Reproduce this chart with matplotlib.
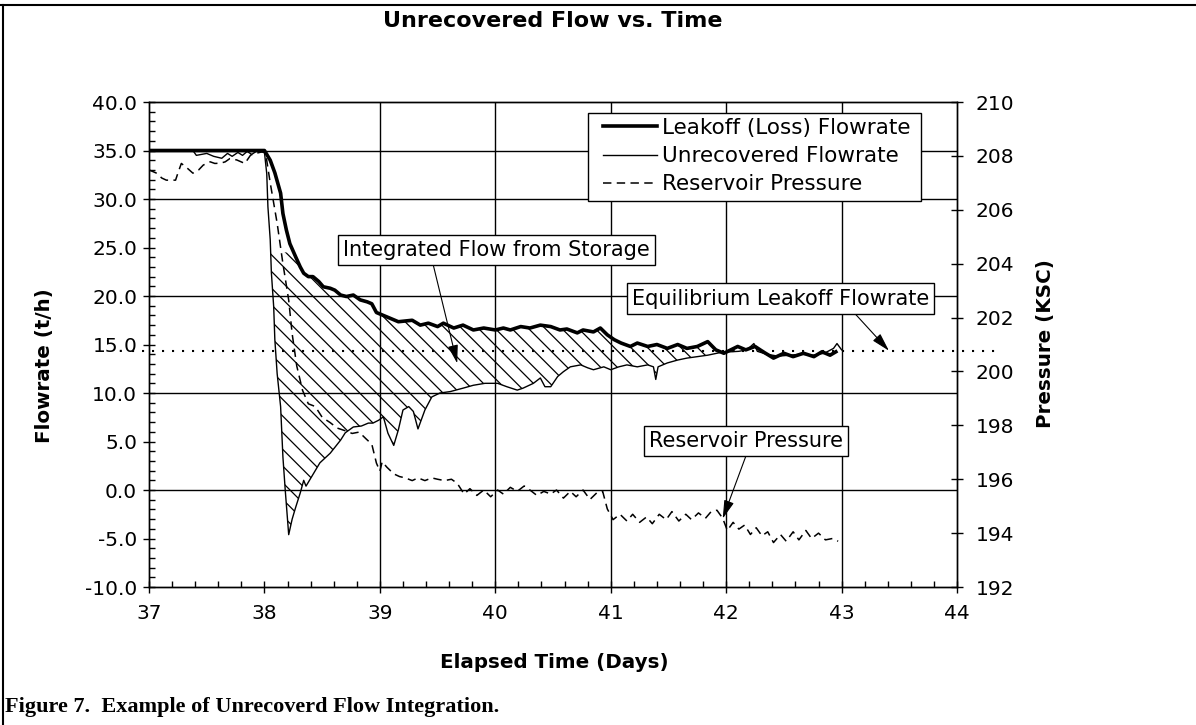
import numpy as np
import matplotlib.pyplot as plt
from matplotlib.lines import Line2D
from matplotlib.patches import Rectangle
from matplotlib.ticker import MultipleLocator

# Leakoff (Loss) Flowrate, t/h
leak_t = [37.0, 37.5, 38.0, 38.05, 38.09, 38.14, 38.16, 38.19, 38.22, 38.27, 38.31, 38.34,
          38.38, 38.42, 38.47, 38.51, 38.57, 38.61, 38.66, 38.71, 38.77, 38.83, 38.89, 38.93,
          38.97, 39.03, 39.09, 39.16, 39.2, 39.28, 39.35, 39.42, 39.5, 39.55, 39.64, 39.72,
          39.81, 39.9, 40.0, 40.07, 40.13, 40.22, 40.3, 40.39, 40.48, 40.56, 40.62, 40.71,
          40.76, 40.85, 40.91, 40.97, 41.03, 41.09, 41.17, 41.23, 41.32, 41.4, 41.49, 41.58,
          41.66, 41.75, 41.84, 41.91, 41.98, 42.04, 42.1, 42.17, 42.25, 42.32, 42.41, 42.5,
          42.58, 42.67, 42.76, 42.83, 42.9, 42.95]
leak_f = [35.0, 35.0, 35.0, 34.0, 32.7, 30.6, 28.5, 26.8, 25.4, 24.05, 23.0, 22.35,
          22.0, 22.0, 21.5, 20.95, 20.8, 20.6, 20.1, 19.95, 20.1, 19.6, 19.4, 19.2,
          18.3, 18.0, 17.7, 17.35, 17.4, 17.5, 17.0, 17.2, 16.85, 17.2, 16.7, 17.0,
          16.5, 16.7, 16.5, 16.7, 16.5, 16.85, 16.7, 17.0, 16.85, 16.5, 16.6, 16.2,
          16.5, 16.3, 16.7, 16.0, 15.5, 15.15, 14.8, 15.15, 14.8, 15.0, 14.6, 15.0,
          14.6, 14.8, 15.3, 14.45, 14.1, 14.45, 14.8, 14.45, 14.8, 14.25, 13.6, 14.1,
          13.75, 14.1, 13.75, 14.25, 13.9, 14.25]

# Unrecovered Flowrate, t/h
unrec_t = [37.0, 37.38, 37.41, 37.5, 37.56, 37.63, 37.68, 37.72, 37.77, 37.81, 37.85, 37.89,
           37.94, 38.0, 38.02, 38.03, 38.05, 38.06, 38.08, 38.09, 38.11, 38.14, 38.16, 38.18,
           38.21, 38.24, 38.27, 38.31, 38.34, 38.36, 38.41, 38.48, 38.57, 38.66, 38.70, 38.77,
           38.84, 38.9, 38.94, 38.99, 39.03, 39.07, 39.12, 39.16, 39.2, 39.25, 39.29, 39.33,
           39.39, 39.45, 39.52, 39.61, 39.72, 39.81, 39.91, 40.02, 40.1, 40.19, 40.24, 40.33,
           40.39, 40.43, 40.48, 40.54, 40.59, 40.65, 40.74, 40.8, 40.85, 40.94, 41.0, 41.07,
           41.14, 41.23, 41.32, 41.37, 41.39, 41.41, 41.49, 41.58, 41.66, 41.75, 41.84, 41.92,
           41.98, 42.04, 42.11, 42.18, 42.24, 42.27, 42.35, 42.45, 42.55, 42.65, 42.75, 42.85,
           42.93, 42.96, 43.0]
unrec_f = [35.0, 35.0, 34.5, 34.7, 34.4, 34.2, 34.7, 34.4, 34.8, 34.5, 34.9, 34.6,
           35.0, 34.8, 32.6, 29.2, 25.8, 22.4, 18.9, 15.5, 12.0, 8.6, 3.4, 0.0,
           -4.6, -3.0, -1.8, -0.3, 1.0, 0.4, 1.4, 2.8, 3.8, 5.15, 5.9, 6.5,
           6.6, 6.9, 6.9, 7.2, 7.55, 5.85, 4.6, 6.2, 8.25, 8.6, 8.1, 6.3,
           8.25, 9.6, 10.0, 10.15, 10.5, 10.8, 11.0, 11.0, 10.65, 10.3, 10.5, 11.0,
           11.55, 10.65, 10.65, 11.7, 12.2, 12.7, 12.9, 12.6, 12.4, 12.7, 12.4, 12.7,
           12.9, 12.7, 12.9, 12.7, 11.4, 12.7, 13.1, 13.4, 13.6, 13.75, 13.9, 14.1,
           14.25, 14.25, 14.3, 14.45, 15.1, 14.3, 14.0, 13.8, 13.9, 14.0, 13.9, 14.1,
           14.6, 15.1, 14.45]

# Reservoir Pressure, KSC
pres_t = [37.0, 37.07, 37.11, 37.15, 37.23, 37.25, 37.28, 37.33, 37.38, 37.43, 37.47, 37.53,
          37.57, 37.62, 37.66, 37.70, 37.76, 37.83, 37.88, 37.93, 37.98, 38.01, 38.05, 38.11,
          38.16, 38.21, 38.24, 38.28, 38.33, 38.38, 38.44, 38.50, 38.57, 38.63, 38.70, 38.76,
          38.82, 38.88, 38.93, 38.97, 39.0, 39.02, 39.06, 39.12, 39.17, 39.22, 39.28, 39.33,
          39.39, 39.45, 39.5, 39.56, 39.62, 39.67, 39.73, 39.78, 39.84, 39.9, 39.96, 40.02,
          40.07, 40.13, 40.19, 40.25, 40.3, 40.36, 40.42, 40.48, 40.53, 40.59, 40.65, 40.7,
          40.76, 40.82, 40.88, 40.93, 40.97, 41.02, 41.08, 41.14, 41.19, 41.25, 41.31, 41.36,
          41.42, 41.48, 41.53, 41.59, 41.65, 41.7, 41.76, 41.82, 41.87, 41.92, 41.97, 42.01,
          42.06, 42.11, 42.16, 42.21, 42.26, 42.31, 42.36, 42.41, 42.47, 42.52, 42.58, 42.63,
          42.69, 42.74, 42.8, 42.86, 42.92, 42.97]
pres_p = [207.48, 207.35, 207.18, 207.1, 207.1, 207.36, 207.72, 207.55, 207.36, 207.48, 207.66, 207.78,
          207.72, 207.73, 207.78, 207.9, 207.85, 207.72, 208.03, 208.1, 208.15, 208.1, 207.0, 205.5,
          204.0, 202.65, 201.4, 200.2, 199.3, 198.8, 198.7, 198.3, 198.1, 197.9, 197.8, 197.7,
          197.75, 197.5, 197.3, 196.6, 196.3, 196.65, 196.45, 196.2, 196.1, 196.05, 195.95, 196.05,
          195.95, 196.05, 196.0, 195.95, 196.0, 195.85, 195.45, 195.65, 195.4, 195.6, 195.35, 195.6,
          195.45, 195.7, 195.55, 195.75, 195.6, 195.4, 195.55, 195.45, 195.6, 195.3, 195.55, 195.35,
          195.6, 195.25, 195.5, 195.55, 194.9, 194.5, 194.7, 194.45, 194.7, 194.4, 194.6, 194.35,
          194.7, 194.5, 194.8, 194.45, 194.7, 194.5, 194.75, 194.55, 194.8, 194.85, 194.55, 194.1,
          194.4, 194.15, 194.3, 193.95, 194.2, 193.9, 194.05, 193.65, 193.95, 193.7, 194.05, 193.75,
          194.1, 193.8, 194.0, 193.75, 193.8, 193.7]

equil_flow = 14.36
equil_span = [36.85, 44.35]

day_ticks = list(range(37, 45))
flow_ticks = list(range(-10, 41, 5))
flow_labels = [f"{v:.1f}" for v in flow_ticks]
flow_grid = [35, 30, 20, 10, 0]
day_grid = [39, 40, 41, 42, 43]
pres_ticks = list(range(192, 211, 2))

plt.rcParams['font.family'] = 'DejaVu Sans'
plt.rcParams['hatch.linewidth'] = 0.9

fig = plt.figure(figsize=(11.96, 7.25), dpi=100)
ax = fig.add_axes([0.1246, 0.1903, 0.6756, 0.669])
ax2 = ax.twinx()

# hatched area between the two flow curves
grid = np.linspace(38.0, 42.35, 3000)
lo = np.interp(grid, unrec_t, unrec_f)
hi = np.minimum(np.interp(grid, leak_t, leak_f), 24.5)
ax.fill_between(grid, lo, hi, where=hi > lo, interpolate=True, facecolor='none',
                edgecolor='black', hatch='\\\\', linewidth=0, zorder=1)

for v in flow_grid:
    ax.axhline(v, color='black', lw=1.0, zorder=0.5)
for v in day_grid:
    ax.axvline(v, color='black', lw=1.0, zorder=0.5)

ax.plot(leak_t, leak_f, color='black', lw=2.6, zorder=3)
ax.plot(unrec_t, unrec_f, color='black', lw=1.0, zorder=3)
ax.plot(equil_span, [equil_flow, equil_flow], color='black', lw=1.5,
        dashes=(1, 3.8), clip_on=False, zorder=3)
ax2.plot(pres_t, pres_p, color='black', lw=1.1, dashes=(5.5, 3.5), zorder=3)

ax.set_xlim(37, 44)
ax.set_ylim(-10, 40)
ax2.set_ylim(192, 210)

ax.set_xticks(day_ticks)
ax.set_xticklabels([str(d) for d in day_ticks])
ax.xaxis.set_minor_locator(MultipleLocator(0.2))
ax.set_yticks(flow_ticks)
ax.set_yticklabels(flow_labels)
ax.yaxis.set_minor_locator(MultipleLocator(1.0))
ax2.set_yticks(pres_ticks)
ax2.set_yticklabels([str(p) for p in pres_ticks])

ax.tick_params(axis='both', which='major', direction='inout', length=9, width=1.0,
               labelsize=14.5, colors='black')
ax.tick_params(axis='y', which='major', pad=4)
ax.tick_params(axis='x', which='major', pad=8)
ax.tick_params(axis='both', which='minor', direction='in', length=4.5, width=1.0)
ax2.tick_params(axis='y', which='major', direction='inout', length=9, width=1.0,
                labelsize=14.5, pad=9)
for a in (ax, ax2):
    for s in a.spines.values():
        s.set_linewidth(1.0)

fig.text(553 / 1196, 1 - 21 / 725, "Unrecovered Flow vs. Time", ha='center', va='center',
         fontsize=16, fontweight='bold')
fig.text(554 / 1196, 1 - 662 / 725, "Elapsed Time (Days)", ha='center', va='center',
         fontsize=14.3, fontweight='bold')
fig.text(45 / 1196, 1 - 366 / 725, "Flowrate (t/h)", ha='center', va='center',
         rotation=90, fontsize=14.3, fontweight='bold')
fig.text(1045 / 1196, 1 - 344 / 725, "Pressure (KSC)", ha='center', va='center',
         rotation=90, fontsize=14.3, fontweight='bold')
fig.text(5 / 1196, 1 - 707 / 725, "Figure 7.  Example of Unrecoverd Flow Integration.",
         ha='left', va='center', fontsize=16, fontweight='bold', family='Liberation Serif')

# page frame (top and left edges)
fig.add_artist(Line2D([0, 1], [1 - 5 / 725, 1 - 5 / 725], transform=fig.transFigure,
                      color='black', lw=1.5))
fig.add_artist(Line2D([3 / 1196, 3 / 1196], [0, 1 - 5 / 725], transform=fig.transFigure,
                      color='black', lw=1.5))

box = dict(boxstyle='square,pad=0.25', facecolor='white', edgecolor='black', lw=1.0)
arrow = dict(arrowstyle='-|>,head_length=0.8,head_width=0.22', color='black', lw=0.8,
             mutation_scale=14, shrinkA=0, shrinkB=0)

ax2.annotate("Integrated Flow from Storage", xy=(39.67, 13.06), xycoords=ax.transData,
             xytext=(40.01, 24.74), textcoords=ax.transData, ha='center', va='center',
             fontsize=15, bbox=box, arrowprops=dict(arrow, relpos=(0.29, 0)), zorder=5)
ax2.annotate("Equilibrium Leakoff Flowrate", xy=(43.41, equil_flow), xycoords=ax.transData,
             xytext=(42.47, 19.74), textcoords=ax.transData, ha='center', va='center',
             fontsize=15, bbox=box, arrowprops=dict(arrow, relpos=(0.735, 0)), zorder=5)
ax2.annotate("Reservoir Pressure", xy=(41.97, 194.54), xycoords=ax2.transData,
             xytext=(42.17, 5.05), textcoords=ax.transData, ha='center', va='center',
             fontsize=15, bbox=box, arrowprops=dict(arrow, relpos=(0.51, 0)), zorder=5)

# legend: frame drawn as its own box so the padding matches the original
ax2.add_patch(Rectangle((588 / 1196, 1 - 201 / 725), 333 / 1196, 88 / 725,
                        transform=fig.transFigure, facecolor='white', edgecolor='black',
                        lw=1.0, clip_on=False, zorder=5.5))
handles = [Line2D([], [], color='black', lw=2.6),
           Line2D([], [], color='black', lw=1.0),
           Line2D([], [], color='black', lw=1.1, dashes=(5.5, 3.5))]
labels = ["Leakoff (Loss) Flowrate", "Unrecovered Flowrate", "Reservoir Pressure"]
leg = ax2.legend(handles, labels, loc='upper left', bbox_to_anchor=(603 / 1196, 1 - 118 / 725),
                 bbox_transform=fig.transFigure, borderaxespad=0, borderpad=0, fontsize=15.5,
                 frameon=False, handlelength=2.5, handletextpad=0.25, labelspacing=0.38)
leg.set_zorder(6)

fig.savefig("out.png", dpi=100)
